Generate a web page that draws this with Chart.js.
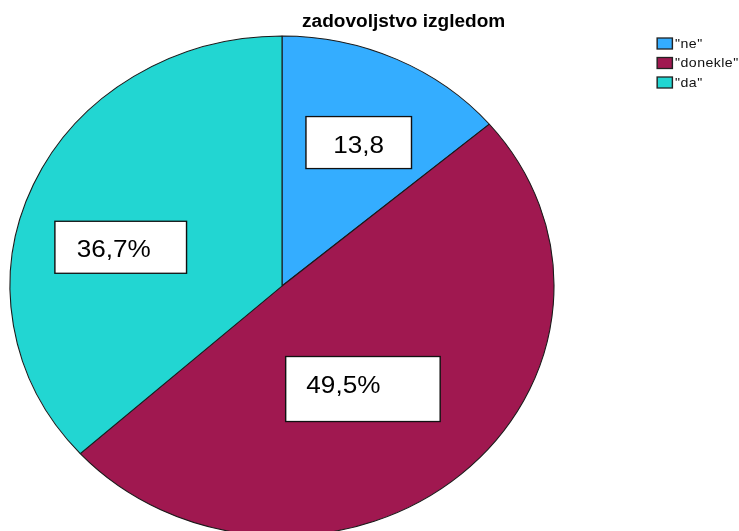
<!DOCTYPE html>
<html>
<head>
<meta charset="utf-8">
<script src="https://cdn.jsdelivr.net/npm/chart.js@4"></script>
<style>
  html, body { margin: 0; padding: 0; background: #fff; }
  canvas { display: block; }
</style>
</head>
<body>
<canvas id="myChart" width="739" height="531"></canvas>
<script>
// podaci
const chartTitle = 'zadovoljstvo izgledom';
const categories = ['"ne"', '"donekle"', '"da"'];
const values = [13.8, 49.5, 36.7];
const valueSuffix = ['', '%', '%'];
const colors = ['#34adff', '#a01850', '#22d6d2'];

// SPSS pie is a bit wider than tall
const SX = 1.088;
const CX = 259.2, CY = 286, R = 250;

// label box placement relative to slice mid point (unscaled px)
const boxStyle = [
    { dx: 18, dy: -30, w: 97, h: 52, pad: null, ty: 4 },
    { dx: -8, dy: 9, w: 142, h: 65, pad: 19, ty: -3 },
    { dx: -34, dy: 12, w: 121, h: 52, pad: 20, ty: 3 },
];

const labelTexts = values.map((v, i) => String(v).replace('.', ',') + valueSuffix[i]);

const spssLook = {
    id: 'spssLook',
    beforeDraw(chart) {
        const ctx = chart.ctx;
        ctx.save();
        ctx.scale(SX, 1);
    },
    afterDatasetsDraw(chart) {
        const ctx = chart.ctx;
        const arcs = chart.getDatasetMeta(0).data;
        ctx.save();
        ctx.font = '24px "Liberation Sans", Arial, sans-serif';
        ctx.textBaseline = 'middle';
        arcs.forEach((arc, i) => {
            const p = arc.tooltipPosition();
            const s = boxStyle[i];
            const cx = p.x + s.dx, cy = p.y + s.dy;
            const x0 = cx - s.w / 2, y0 = cy - s.h / 2;
            ctx.fillStyle = '#fff';
            ctx.fillRect(x0, y0, s.w, s.h);
            ctx.strokeStyle = '#111';
            ctx.lineWidth = 1.3;
            ctx.strokeRect(x0, y0, s.w, s.h);
            ctx.fillStyle = '#000';
            if (s.pad === null) {
                ctx.textAlign = 'center';
                ctx.fillText(labelTexts[i], cx, cy + s.ty);
            } else {
                ctx.textAlign = 'left';
                ctx.fillText(labelTexts[i], x0 + s.pad, cy + s.ty);
            }
        });
        ctx.restore();
    },
    afterDraw(chart) {
        const ctx = chart.ctx;
        // naslov
        ctx.fillStyle = '#000';
        ctx.font = 'bold 17.5px "Liberation Sans", Arial, sans-serif';
        ctx.textAlign = 'center';
        ctx.textBaseline = 'alphabetic';
        ctx.fillText(chartTitle, 371, 27);
        // legenda
        ctx.font = '13px "Liberation Sans", Arial, sans-serif';
        ctx.letterSpacing = '0.4px';
        ctx.textAlign = 'left';
        ctx.textBaseline = 'middle';
        categories.forEach((c, i) => {
            const y = 38 + i * 19.5;
            ctx.fillStyle = colors[i];
            ctx.fillRect(604, y, 14, 11);
            ctx.strokeStyle = '#222';
            ctx.lineWidth = 1.3;
            ctx.strokeRect(604, y, 14, 11);
            ctx.fillStyle = '#111';
            ctx.fillText(c, 620.5, y + 6);
        });
        ctx.letterSpacing = '0px';
        ctx.restore();
    },
};

const ctx = document.getElementById('myChart').getContext('2d');
const chart = new Chart(ctx, {
    type: 'pie',
    data: {
        labels: categories,
        datasets: [{
            data: values,
            backgroundColor: colors,
            borderColor: '#1a1a1a',
            borderWidth: 1,
            radius: R,
        }],
    },
    options: {
        responsive: false,
        animation: false,
        layout: {
            padding: { left: 0, right: 739 - 2 * CX, top: 2 * CY - 531, bottom: 0 },
        },
        plugins: {
            legend: { display: false },
            tooltip: { enabled: false },
            title: { display: false },
        },
    },
    plugins: [spssLook],
});
</script>
</body>
</html>
